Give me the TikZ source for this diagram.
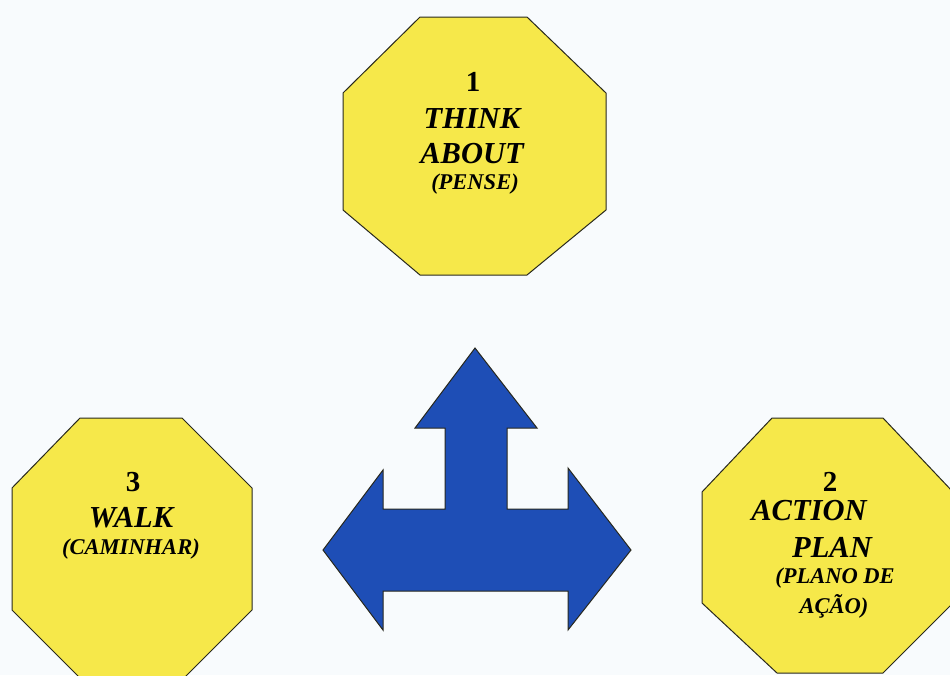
\documentclass[tikz,border=0pt]{standalone}
\usepackage{fontspec}
\setmainfont{Liberation Serif}
\definecolor{bg}{RGB}{248,251,253}
\definecolor{octyellow}{RGB}{246,232,74}
\definecolor{arrowblue}{RGB}{30,78,182}
\definecolor{edge}{RGB}{40,40,30}
\tikzset{
  oct/.style={fill=octyellow,draw=edge,line width=1pt,line join=miter},
  bigarrow/.style={fill=arrowblue,draw=edge,line width=1pt,line join=miter},
  numtxt/.style={anchor=base,inner sep=0pt,font=\fontsize{29}{31}\selectfont\bfseries},
  maintxt/.style={anchor=base,inner sep=0pt,font=\fontsize{30.5}{32}\selectfont\bfseries\itshape},
  subtxt/.style={anchor=base,inner sep=0pt,font=\fontsize{22.5}{24}\selectfont\bfseries\itshape}
}
\begin{document}
\begin{tikzpicture}[x=1pt,y=-1pt]
\useasboundingbox (0,0) rectangle (950,675);
\fill[bg] (0,0) rectangle (950,675);
\begin{scope}
\clip (0,0) rectangle (950,675);
% top octagon
\draw[oct] (420,17) -- (527,17) -- (606,93) -- (606,210) -- (527,275) -- (420,275) -- (343,210) -- (343,93) -- cycle;
% left octagon
\draw[oct] (80,418) -- (182,418) -- (252,488) -- (252,610) -- (182,680) -- (82,680) -- (12,610) -- (12,488) -- cycle;
% right octagon
\draw[oct] (772,418) -- (883,418) -- (953,492) -- (953,603) -- (883,673) -- (777,673) -- (702,603) -- (702,492) -- cycle;
% arrow
\draw[bigarrow] (475,348) -- (537,428) -- (507,428) -- (507,509) -- (568,509) -- (568,468) -- (631,550) -- (568,630) -- (568,591) -- (383,591) -- (383,630) -- (323,550) -- (383,470) -- (383,509) -- (445,509) -- (445,428) -- (415,428) -- cycle;
\end{scope}
% texts
\node[numtxt] (n1) at (473,91) {1};
\node[maintxt] (t1a) at (472,128) {THINK};
\node[maintxt] (t1b) at (472,163) {ABOUT};
\node[subtxt] (t1c) at (475,189.5) {(PENSE)};
\node[numtxt] (n3) at (133,491) {3};
\node[maintxt] (t3a) at (131,527) {WALK};
\node[subtxt] (t3b) at (131,554.5) {(CAMINHAR)};
\node[numtxt] (n2) at (830,491) {2};
\node[maintxt] (t2a) at (809,520) {ACTION};
\node[maintxt] (t2b) at (832,557) {PLAN};
\node[subtxt] (t2c) at (835,583.5) {(PLANO DE};
\node[subtxt] (t2d) at (834,613.5) {AÇÃO)};
\end{tikzpicture}
\end{document}
